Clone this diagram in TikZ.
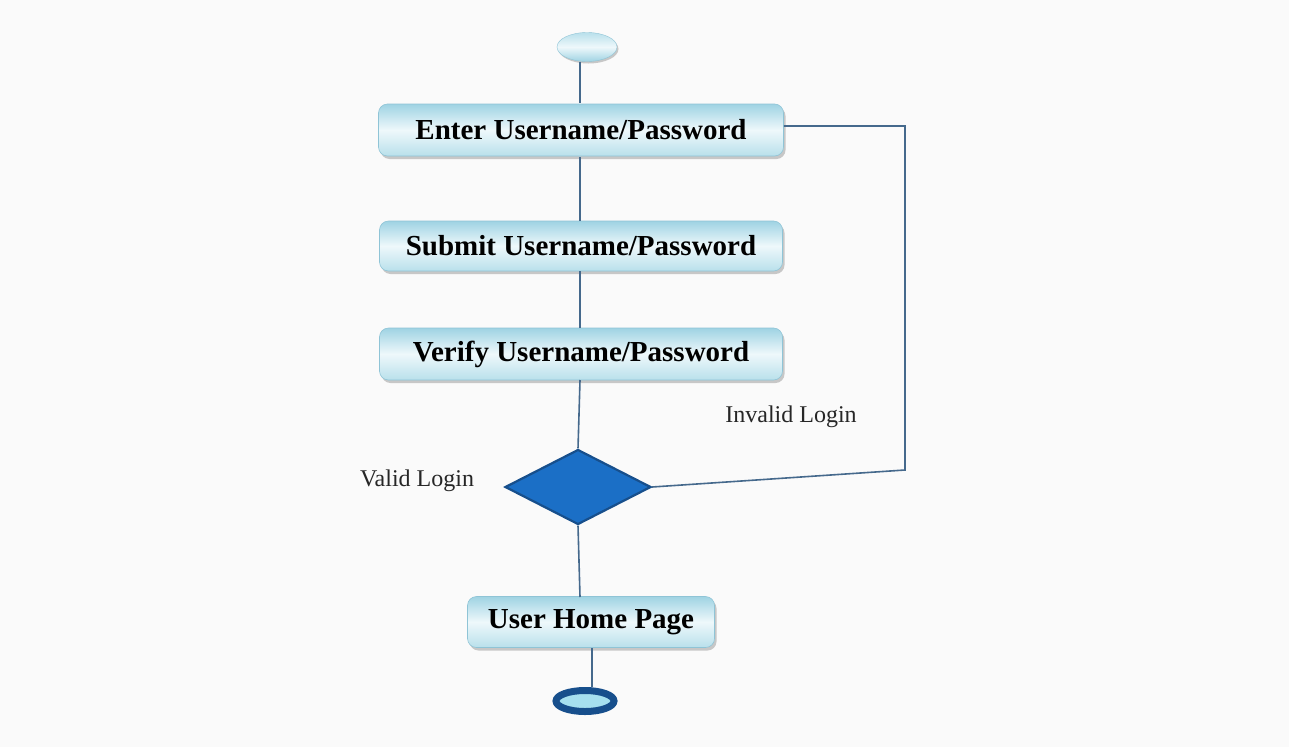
\documentclass[tikz,border=0pt]{standalone}
\usepackage{fontspec}
\setmainfont{Liberation Serif}
\usetikzlibrary{shapes.geometric,shadows}
\definecolor{lineblue}{HTML}{45698C}
\definecolor{boxtop}{HTML}{9FD3E3}
\definecolor{boxmid}{HTML}{EEF8FB}
\definecolor{boxbot}{HTML}{B9E0EB}
\definecolor{boxedge}{HTML}{8FC4D6}
\definecolor{diafill}{HTML}{1B6FC6}
\definecolor{diaedge}{HTML}{174F8C}
\definecolor{endfill}{HTML}{A6E0EF}
\tikzset{
  flow/.style={draw=lineblue, line width=1.6pt},
  actbox/.style={rectangle, rounded corners=9pt, draw=boxedge, line width=0.6pt,
    top color=boxtop, bottom color=boxbot, middle color=boxmid,
    drop shadow={shadow xshift=2pt, shadow yshift=-3pt, fill=black!35, opacity=0.6},
    minimum height=52pt, inner sep=0pt,
    font=\fontsize{29}{32}\selectfont\bfseries},
  lbl/.style={font=\fontsize{24}{27}\selectfont, text=black!85},
}
\begin{document}
\begin{tikzpicture}[x=1pt,y=-1pt]
\fill[white!98!black] (0,0) rectangle (1289,747);
\useasboundingbox (0,0) rectangle (1289,747);

\node[ellipse, minimum width=60pt, minimum height=29pt, inner sep=0pt, draw=boxedge,
  top color=boxbot, bottom color=boxtop, middle color=boxmid,
  drop shadow={shadow xshift=1.5pt, shadow yshift=-2pt, fill=black!35, opacity=0.6}] (start) at (587,47) {};

\node[actbox, minimum width=405pt] (enter) at (581,130) {Enter Username/Password};
\node[actbox, minimum width=403pt, minimum height=50pt] (submit) at (581,246) {Submit Username/Password};
\node[actbox, minimum width=403pt] (verify) at (581,354) {Verify Username/Password};

\node[diamond, aspect=1.95, minimum width=146pt, minimum height=75pt, inner sep=0pt,
  fill=diafill, draw=diaedge, line width=2.2pt] (dec) at (578,487) {};

\node[actbox, minimum width=247pt, minimum height=51pt] (home) at (591,622) {User Home Page};

\node[ellipse, minimum width=58pt, minimum height=21pt, inner sep=0pt, fill=endfill,
  draw=diaedge, line width=7pt] (final) at (585,701) {};

\coordinate (c1) at (905,126);
\coordinate (c2) at (905,470);

\draw[flow] (start.south -| 580,0) -- (580,103);
\draw[flow] (580,157) -- (580,221);
\draw[flow] (580,271) -- (580,328);
\draw[flow] (580,380) -- (dec.north);
\draw[flow] (dec.south) -- (580,597);
\draw[flow] (592,648) -- (final.north -| 592,0);
\draw[flow] (enter.east |- c1) -- (c1) -- (c2) -- (dec.east);

\node[lbl] (inv) at (791,417) {Invalid Login};
\node[lbl] (val) at (417,481) {Valid Login};
\end{tikzpicture}
\end{document}
